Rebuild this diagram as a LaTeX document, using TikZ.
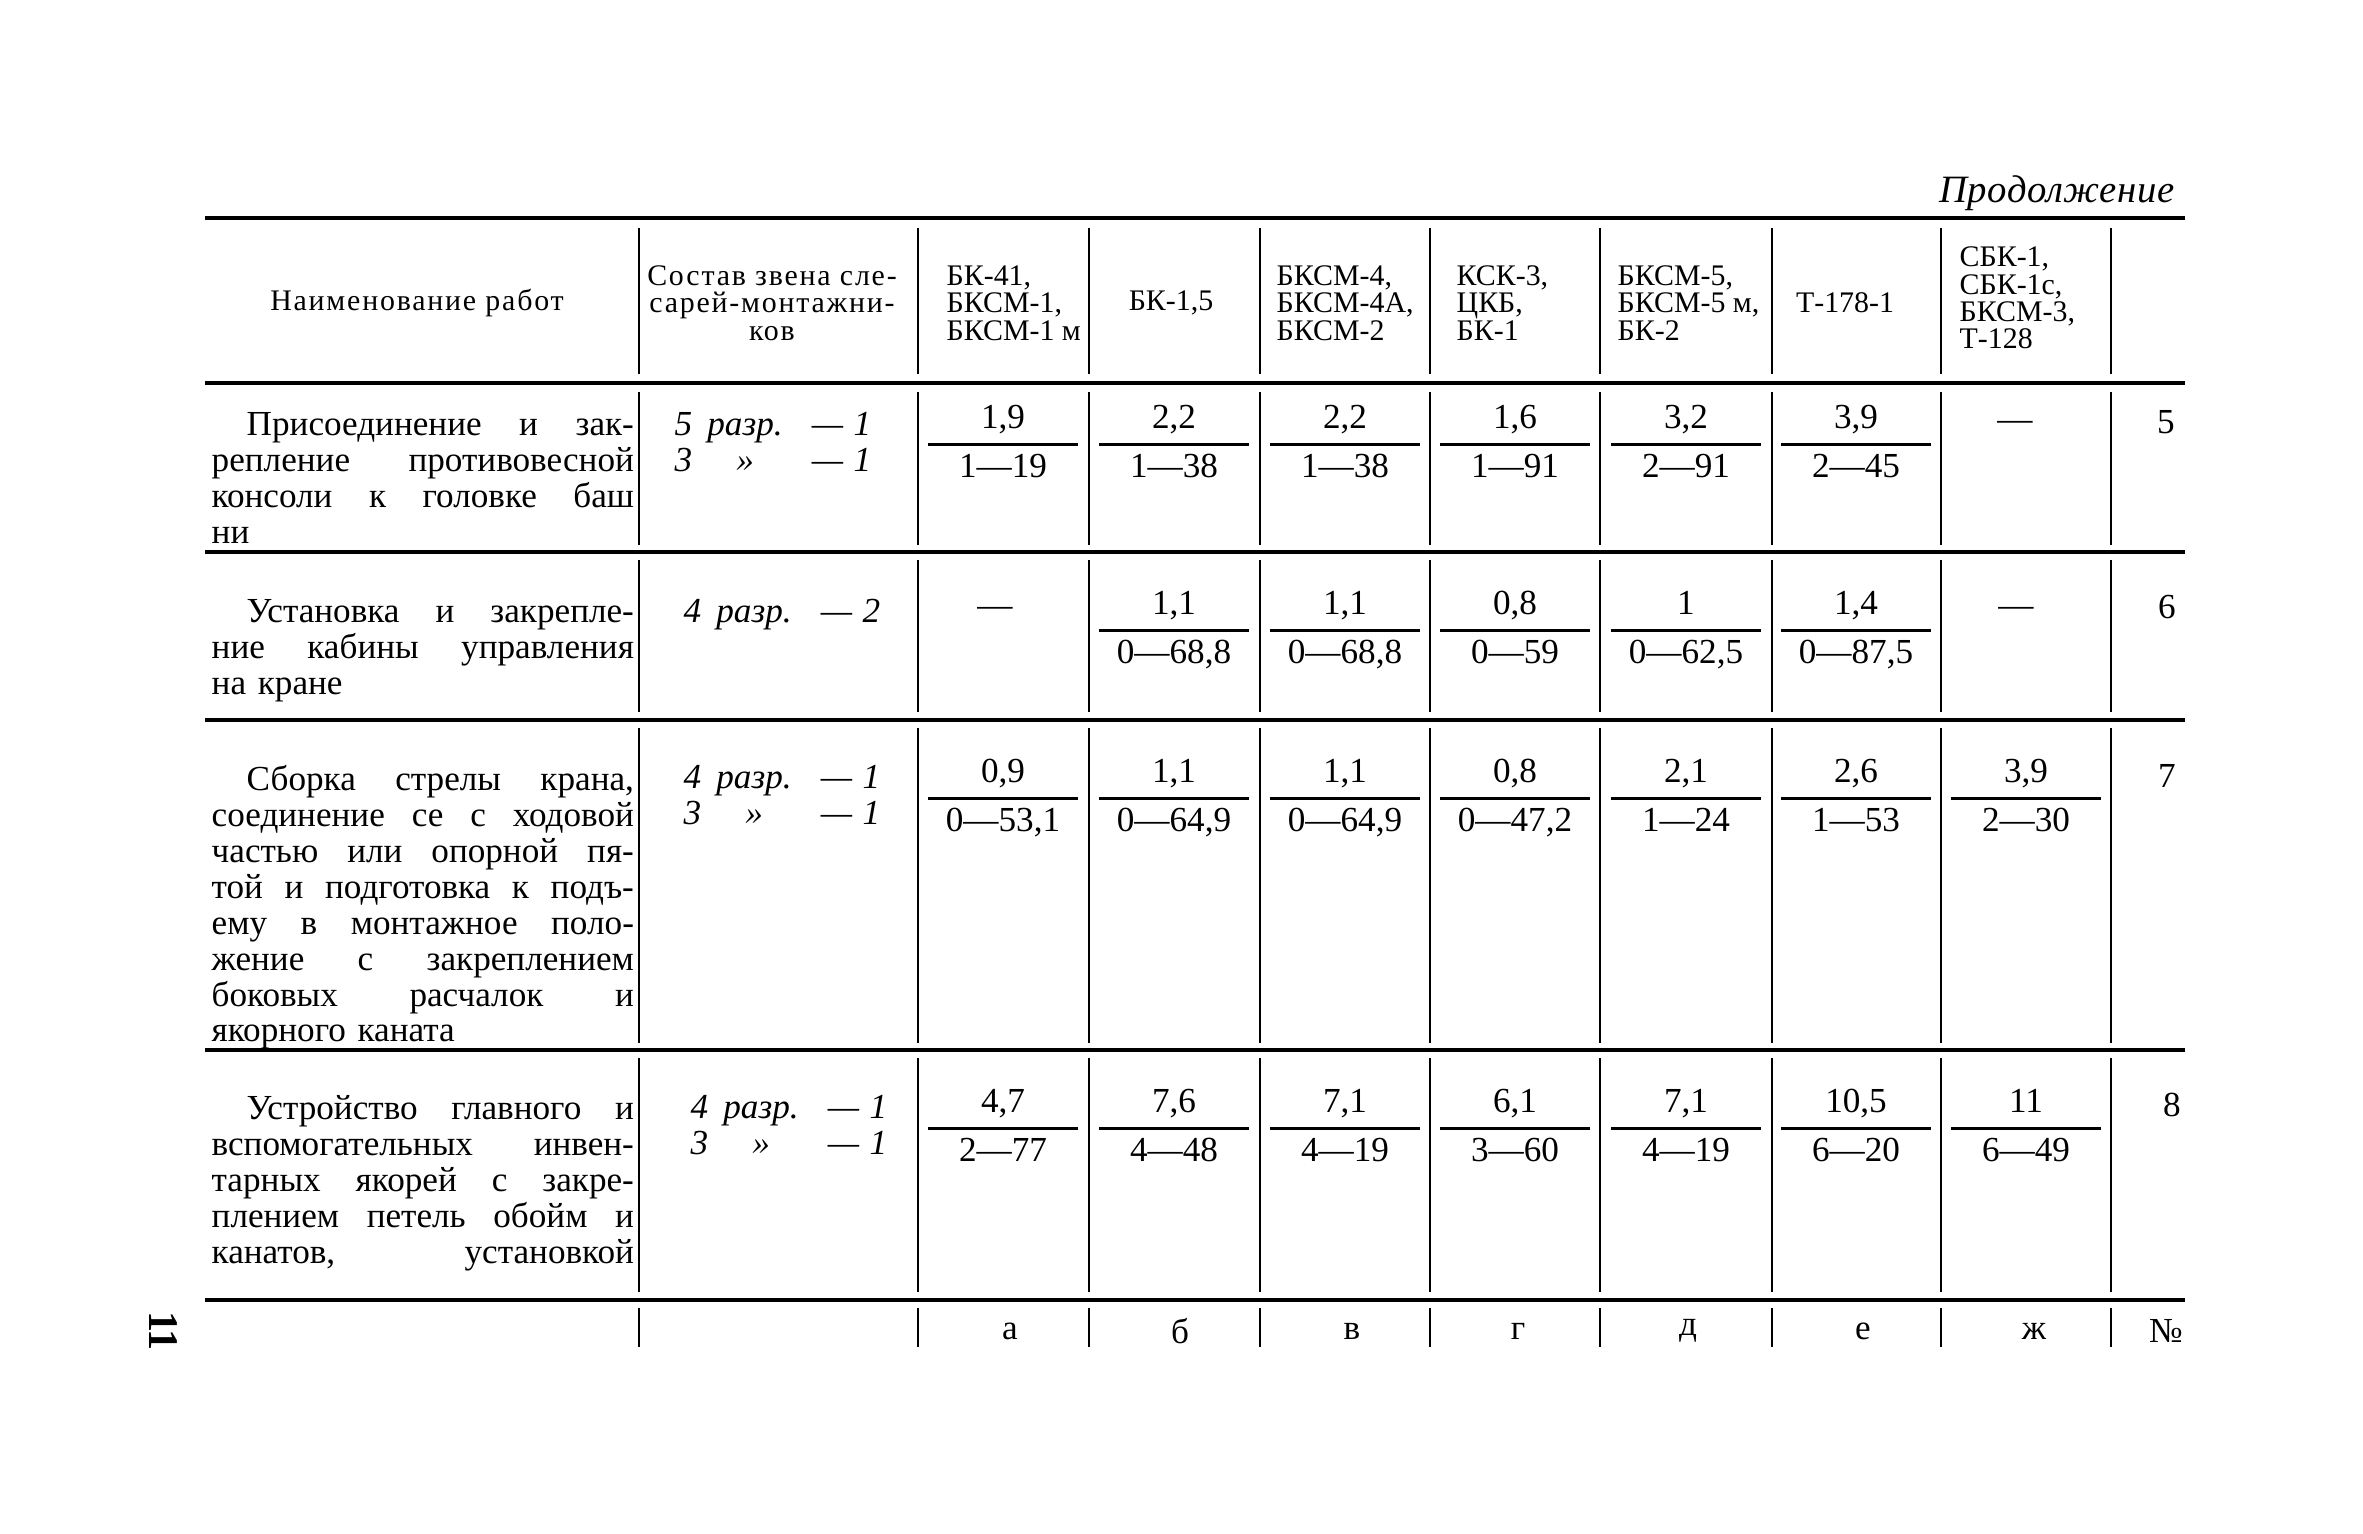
\documentclass[tikz,border=0pt]{standalone}
\usepackage{fontspec}
\setmainfont{Liberation Serif}
\newfontfamily\contfont[LetterSpace=1.5]{Liberation Serif}
\newfontfamily\headls[LetterSpace=6]{Liberation Serif}

\newlength\frw \setlength\frw{1.5cm}
\newlength\indw \setlength\indw{0.35cm}
\newlength\workw \setlength\workw{4.22cm}
% fraction: norm over cost
\newcommand\frc[2]{{\setlength\arrayrulewidth{0.8pt}\renewcommand\arraystretch{0}%
  \begin{tabular}{@{}c@{}}\makebox[\frw]{\rule[-4pt]{0pt}{12pt}#1}\\\hline\rule[-4pt]{0pt}{13pt}#2\end{tabular}}}
% justified lines of the work column
\newcommand\fl[1]{\leavevmode\hbox to \workw{\spaceskip=0.25em plus 1fil\relax\hspace*{\indw}#1}}
\newcommand\jl[1]{\leavevmode\hbox to \workw{\spaceskip=0.25em plus 1fil\relax #1}}
\newcommand\rz[3]{\makebox[0.8em][l]{#1}\makebox[2.4em][c]{#2}\hspace{0.7em}—\hspace{0.3em}#3}

\tikzset{
  hrule/.style={line width=1.1pt},
  vrule/.style={line width=0.6pt},
  head/.style={inner sep=0pt, font=\fontsize{8.5}{7.8}\selectfont},
  work/.style={inner sep=0pt, anchor=north west, text width=\workw, align=left, font=\fontsize{10}{10.2}\selectfont},
  sostav/.style={inner sep=0pt, anchor=north west, align=left, font=\fontsize{10}{10.2}\selectfont\itshape},
  val/.style={inner sep=0pt, font=\fontsize{10}{12}\selectfont},
}

\begin{document}
\begin{tikzpicture}[x=0.01cm, y=-0.01cm]
  \useasboundingbox (0,0) rectangle (2363,1534);

  \node[anchor=base east, inner sep=0pt, font=\fontsize{11}{12}\contfont\itshape] (cont) at (2175,203) {Продолжение};

  % rules and column lines
  \foreach \y in {218,383,552,720,1050,1300}
    \draw[hrule] (205,\y) -- (2185,\y);
  \foreach \x in {639,918,1089,1260,1430,1600,1772,1941,2111}
    \foreach \ya/\yb in {228/374,392/545,560/712,728/1043,1058/1292,1308/1347}
      \draw[vrule] (\x,\ya) -- (\x,\yb);

  % header
  \node[head, font=\fontsize{8.5}{7.8}\headls] (hwork) at (417,303) {Наименование работ};
  \node[head, font=\fontsize{8.5}{7.8}\headls, align=center] (hsost) at (772,303) {Состав звена сле-\\сарей-монтажни-\\ков};
  \node[head, anchor=west, align=left] (ha) at (946,303) {БК-41,\\БКСМ-1,\\БКСМ-1 м};
  \node[head] (hb) at (1171,303) {БК-1,5};
  \node[head, anchor=west, align=left] (hv) at (1276,303) {БКСМ-4,\\БКСМ-4А,\\БКСМ-2};
  \node[head, anchor=west, align=left] (hg) at (1456,303) {КСК-3,\\ЦКБ,\\БК-1};
  \node[head, anchor=west, align=left] (hd) at (1617,303) {БКСМ-5,\\БКСМ-5 м,\\БК-2};
  \node[head] (he) at (1845,303) {Т-178-1};
  \node[head, anchor=west, align=left] (hzh) at (1959,298) {СБК-1,\\СБК-1с,\\БКСМ-3,\\Т-128};

  % row 5
  \node[work] (w5) at (211,412) {\fl{Присоединение и зак-}\\\jl{репление противовесной}\\\jl{консоли к головке баш}\\ни};
  \node[sostav] (s5) at (674,412) {\rz{5}{разр.}{1}\\\rz{3}{»}{1}};
  \node[val] (a5) at (1003,446) {\frc{1,9}{1—19}};
  \node[val] (b5) at (1174,446) {\frc{2,2}{1—38}};
  \node[val] (v5) at (1345,446) {\frc{2,2}{1—38}};
  \node[val] (g5) at (1515,446) {\frc{1,6}{1—91}};
  \node[val] (d5) at (1686,446) {\frc{3,2}{2—91}};
  \node[val] (e5) at (1856,446) {\frc{3,9}{2—45}};
  \node[val] (zh5) at (2015,426) {—};
  \node[val] (n5) at (2166,422) {5};

  % row 6
  \node[work] (w6) at (211,599) {\fl{Установка и закрепле-}\\\jl{ние кабины управления}\\на кране};
  \node[sostav] (s6) at (683,599) {\rz{4}{разр.}{2}};
  \node[val] (a6) at (995,612) {—};
  \node[val] (b6) at (1174,632) {\frc{1,1}{0—68,8}};
  \node[val] (v6) at (1345,632) {\frc{1,1}{0—68,8}};
  \node[val] (g6) at (1515,632) {\frc{0,8}{0—59}};
  \node[val] (d6) at (1686,632) {\frc{1}{0—62,5}};
  \node[val] (e6) at (1856,632) {\frc{1,4}{0—87,5}};
  \node[val] (zh6) at (2016,612) {—};
  \node[val] (n6) at (2167,607) {6};

  % row 7
  \node[work] (w7) at (211,765) {\fl{Сборка стрелы крана,}\\\jl{соединение се с ходовой}\\\jl{частью или опорной пя-}\\\jl{той и подготовка к подъ-}\\\jl{ему в монтажное поло-}\\\jl{жение с закреплением}\\\jl{боковых расчалок и}\\якорного каната};
  \node[sostav] (s7) at (683,765) {\rz{4}{разр.}{1}\\\rz{3}{»}{1}};
  \node[val] (a7) at (1003,800) {\frc{0,9}{0—53,1}};
  \node[val] (b7) at (1174,800) {\frc{1,1}{0—64,9}};
  \node[val] (v7) at (1345,800) {\frc{1,1}{0—64,9}};
  \node[val] (g7) at (1515,800) {\frc{0,8}{0—47,2}};
  \node[val] (d7) at (1686,800) {\frc{2,1}{1—24}};
  \node[val] (e7) at (1856,800) {\frc{2,6}{1—53}};
  \node[val] (zh7) at (2026,800) {\frc{3,9}{2—30}};
  \node[val] (n7) at (2167,776) {7};

  % row 8
  \node[work] (w8) at (211,1095) {\fl{Устройство главного и}\\\jl{вспомогательных инвен-}\\\jl{тарных якорей с закре-}\\\jl{плением петель обойм и}\\\jl{канатов, установкой}};
  \node[sostav] (s8) at (690,1095) {\rz{4}{разр.}{1}\\\rz{3}{»}{1}};
  \node[val] (a8) at (1003,1130) {\frc{4,7}{2—77}};
  \node[val] (b8) at (1174,1130) {\frc{7,6}{4—48}};
  \node[val] (v8) at (1345,1130) {\frc{7,1}{4—19}};
  \node[val] (g8) at (1515,1130) {\frc{6,1}{3—60}};
  \node[val] (d8) at (1686,1130) {\frc{7,1}{4—19}};
  \node[val] (e8) at (1856,1130) {\frc{10,5}{6—20}};
  \node[val] (zh8) at (2026,1130) {\frc{11}{6—49}};
  \node[val] (n8) at (2172,1105) {8};

  % column letters
  \node[val] (la) at (1010,1331) {а};
  \node[val] (lb) at (1180,1331) {б};
  \node[val] (lv) at (1352,1331) {в};
  \node[val] (lg) at (1518,1331) {г};
  \node[val] (ld) at (1688,1331) {д};
  \node[val] (le) at (1863,1331) {е};
  \node[val] (lzh) at (2034,1331) {ж};
  \node[val] (lno) at (2166,1331) {№};

  \node[val, rotate=-90, font=\fontsize{12}{12}\selectfont\bfseries] (page) at (163,1331) {11};
\end{tikzpicture}
\end{document}
